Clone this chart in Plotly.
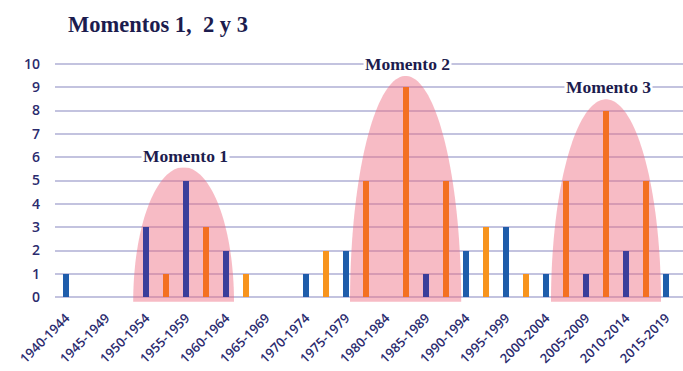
import numpy as np
import plotly.graph_objects as go

# Five-year periods shown on the x axis
PERIODS = ["1940-1944", "1945-1949", "1950-1954", "1955-1959", "1960-1964",
           "1965-1969", "1970-1974", "1975-1979", "1980-1984", "1985-1989",
           "1990-1994", "1995-1999", "2000-2004", "2005-2009", "2010-2014",
           "2015-2019"]

# Blue series: one bar centred on each period
BLUE_VALUES = [1, 0, 3, 5, 2, 0, 1, 2, 0, 1, 2, 3, 1, 1, 2, 1]
# Orange series: one bar between each period and the next
ORANGE_VALUES = [0, 0, 1, 3, 1, 0, 2, 5, 9, 5, 3, 1, 5, 8, 5, 0]

Y_TICKS = list(range(0, 11))

# Highlighted "momentos": label, centre, half width, peak of the dome
MOMENT_LABELS = ["Momento 1", "Momento 2", "Momento 3"]
MOMENT_CENTRES = [2.94, 8.49, 13.5]
MOMENT_HALF_WIDTHS = [1.26, 1.39, 1.375]
MOMENT_PEAKS = [5.57, 9.48, 8.48]

DOME_BASE = -0.2
BAR_W = 0.16
NAVY = "#2B2B6E"
TITLE_NAVY = "#1C1C4E"


def inside_moment(x):
    return any(abs(x - c) < w for c, w in zip(MOMENT_CENTRES, MOMENT_HALF_WIDTHS))


def dome_path(cx, a, peak, base=DOME_BASE, n=80):
    t = np.linspace(0, np.pi, n)
    xs = cx + a * np.cos(t)
    ys = base + (peak - base) * np.sin(t)
    pts = " L ".join(f"{x:.4f},{y:.4f}" for x, y in zip(xs, ys))
    return f"M {pts} Z"


x_blue = np.arange(len(PERIODS), dtype=float)
x_orange = x_blue + 0.5

blue_colors = ["#3B3F9B" if inside_moment(x) else "#1F5DAB" for x in x_blue]
orange_colors = ["#F37022" if inside_moment(x) else "#F7941E" for x in x_orange]

fig = go.Figure()
fig.add_trace(go.Bar(x=x_blue, y=BLUE_VALUES, width=BAR_W,
                     marker=dict(color=blue_colors, line=dict(width=0)),
                     showlegend=False, hoverinfo="skip"))
fig.add_trace(go.Bar(x=x_orange, y=ORANGE_VALUES, width=BAR_W,
                     marker=dict(color=orange_colors, line=dict(width=0)),
                     showlegend=False, hoverinfo="skip"))

shapes = []
for c, w, p in zip(MOMENT_CENTRES, MOMENT_HALF_WIDTHS, MOMENT_PEAKS):
    shapes.append(dict(type="path", path=dome_path(c, w, p), xref="x", yref="y",
                       fillcolor="rgba(238,104,126,0.45)", line=dict(width=0),
                       layer="between"))

annotations = [
    dict(text="<b>Momentos 1,  2 y 3</b>", xref="paper", yref="paper",
         x=0.017, y=1.135, xanchor="left", yanchor="middle", showarrow=False,
         font=dict(family="Liberation Serif", size=22.5, color=TITLE_NAVY)),
]
label_y = [6.05, 10.0, 9.0]
for lab, c, ly in zip(MOMENT_LABELS, MOMENT_CENTRES, label_y):
    annotations.append(dict(text=f"<b>{lab}</b>", x=c + 0.05, y=ly, xref="x", yref="y",
                            showarrow=False, bgcolor="white", borderpad=1,
                            font=dict(family="Liberation Serif", size=17.5, color=TITLE_NAVY)))

fig.update_layout(
    width=683, height=371,
    margin=dict(l=55, r=0, t=58, b=68),
    paper_bgcolor="white", plot_bgcolor="white",
    barmode="overlay", bargap=0,
    shapes=shapes, annotations=annotations,
    xaxis=dict(range=[-0.275, 15.425], tickvals=list(x_blue), ticktext=PERIODS,
               tickangle=-45, showgrid=False, zeroline=False, ticks="",
               ticklabelstandoff=4,
               tickfont=dict(family="Open Sans", size=13, weight=600, color=NAVY)),
    yaxis=dict(range=[-0.25, 10.25], tickvals=Y_TICKS, showgrid=True,
               gridcolor="#C3C3DF", gridwidth=1.6, zeroline=False, ticks="",
               ticklabelstandoff=14,
               tickfont=dict(family="Open Sans", size=14, weight=600, color=NAVY)),
)

fig.write_html("out.html")
